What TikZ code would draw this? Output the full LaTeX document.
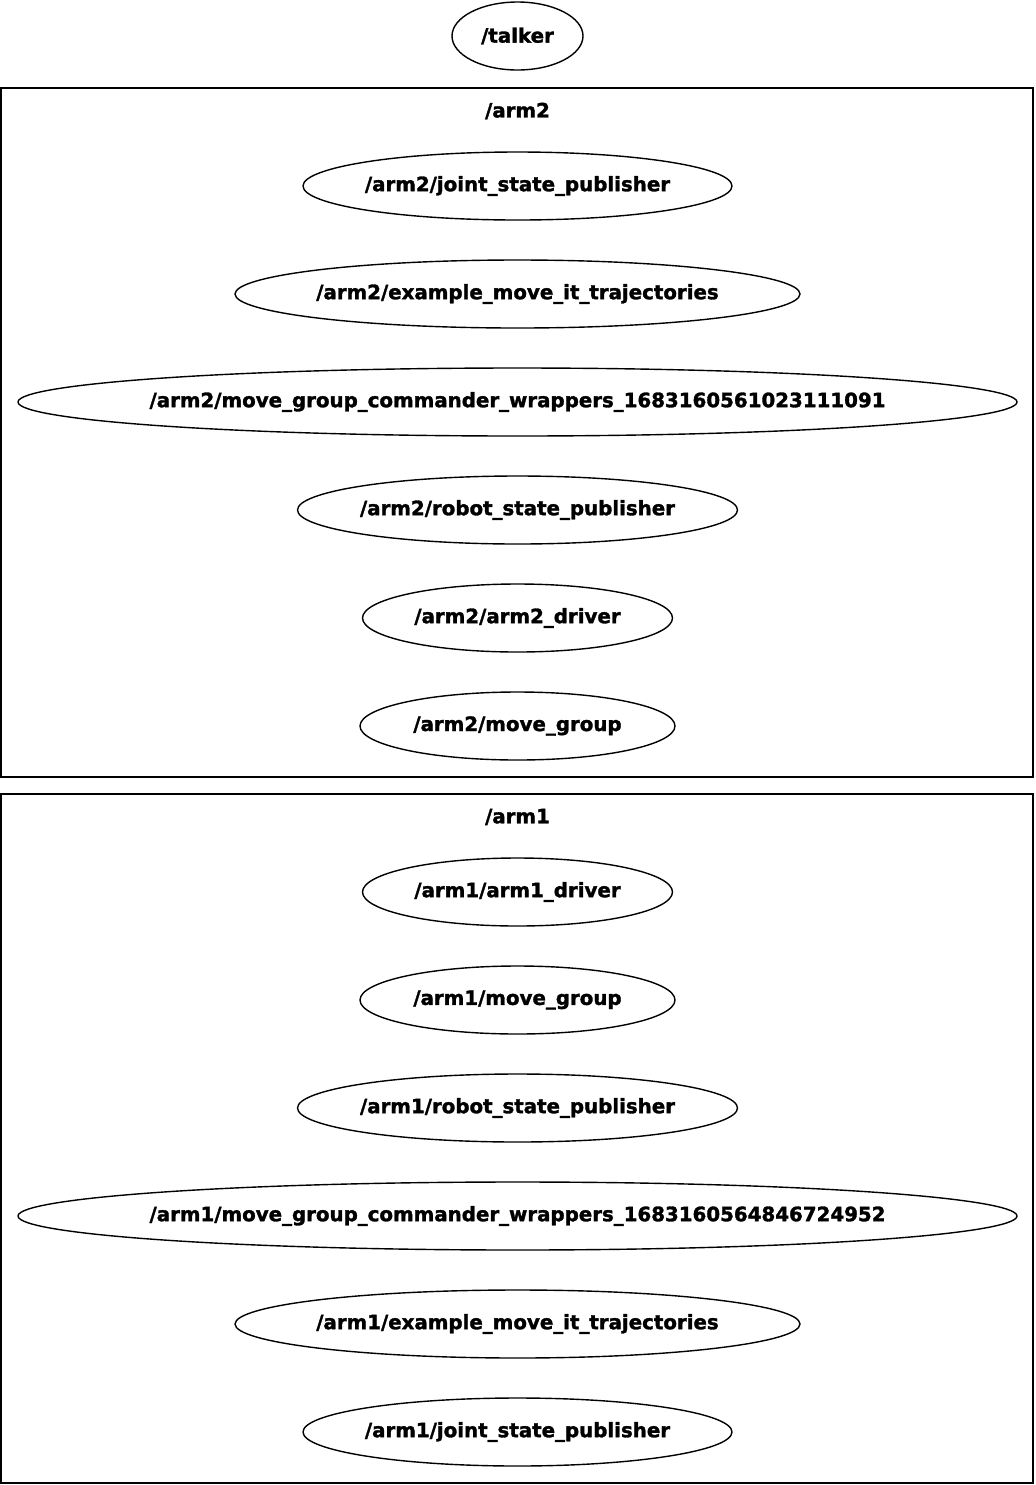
\documentclass[tikz,border=0pt]{standalone}
\usepackage{fontspec}
\setmainfont{DejaVu Sans}[FakeBold=1.6]
\tikzset{
  rosnode/.style={line width=0.7pt},
  roslabel/.style={inner sep=0pt, font=\fontsize{9.9}{12}\selectfont\bfseries},
  nsbox/.style={draw, line width=1pt}
}
\begin{document}
\begin{tikzpicture}[x=0.5pt, y=-0.5pt]
    \useasboundingbox (0,0) rectangle (1035,1485);

    % top level node
    \draw[rosnode] (517.5,36) ellipse [x radius=65.5, y radius=34];
    \node[roslabel] (talker) at (517.5,36) {/talker};

    % namespace arm2
    \draw[nsbox] (1,88) rectangle (1033,777);
    \node[roslabel] (arm2) at (517.5,111) {/arm2};
    \draw[rosnode] (517.5,186) ellipse [x radius=214.5, y radius=34];
    \node[roslabel] (arm2jsp) at (517.5,186) {/arm2/joint\_state\_publisher};
    \draw[rosnode] (517.5,294) ellipse [x radius=282.5, y radius=34];
    \node[roslabel] (arm2emt) at (517.5,294) {/arm2/example\_move\_it\_trajectories};
    \draw[rosnode] (517.5,402) ellipse [x radius=499.5, y radius=34];
    \node[roslabel] (arm2mgc) at (517.5,402) {/arm2/move\_group\_commander\_wrappers\_1683160561023111091};
    \draw[rosnode] (517.5,510) ellipse [x radius=220, y radius=34];
    \node[roslabel] (arm2rsp) at (517.5,510) {/arm2/robot\_state\_publisher};
    \draw[rosnode] (517.5,618) ellipse [x radius=155, y radius=34];
    \node[roslabel] (arm2drv) at (517.5,618) {/arm2/arm2\_driver};
    \draw[rosnode] (517.5,726) ellipse [x radius=157.5, y radius=34];
    \node[roslabel] (arm2mg) at (517.5,726) {/arm2/move\_group};

    % namespace arm1
    \draw[nsbox] (1,794) rectangle (1033,1483);
    \node[roslabel] (arm1) at (517.5,817) {/arm1};
    \draw[rosnode] (517.5,892) ellipse [x radius=155, y radius=34];
    \node[roslabel] (arm1drv) at (517.5,892) {/arm1/arm1\_driver};
    \draw[rosnode] (517.5,1000) ellipse [x radius=157.5, y radius=34];
    \node[roslabel] (arm1mg) at (517.5,1000) {/arm1/move\_group};
    \draw[rosnode] (517.5,1108) ellipse [x radius=220, y radius=34];
    \node[roslabel] (arm1rsp) at (517.5,1108) {/arm1/robot\_state\_publisher};
    \draw[rosnode] (517.5,1216) ellipse [x radius=499.5, y radius=34];
    \node[roslabel] (arm1mgc) at (517.5,1216) {/arm1/move\_group\_commander\_wrappers\_1683160564846724952};
    \draw[rosnode] (517.5,1324) ellipse [x radius=282.5, y radius=34];
    \node[roslabel] (arm1emt) at (517.5,1324) {/arm1/example\_move\_it\_trajectories};
    \draw[rosnode] (517.5,1432) ellipse [x radius=214.5, y radius=34];
    \node[roslabel] (arm1jsp) at (517.5,1432) {/arm1/joint\_state\_publisher};
\end{tikzpicture}
\end{document}
